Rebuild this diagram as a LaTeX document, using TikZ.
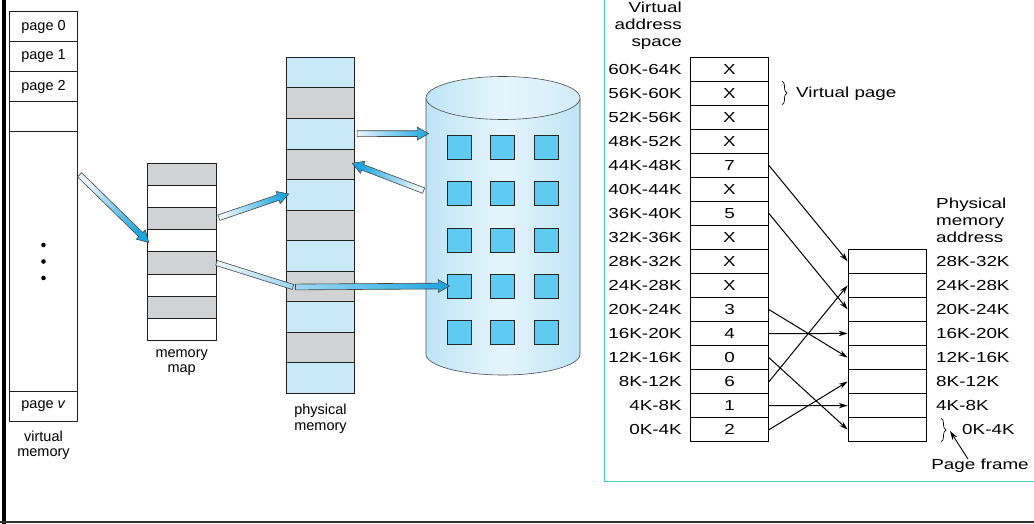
\documentclass[tikz,border=0pt]{standalone}
\usepackage{fontspec}
\setmainfont{Liberation Sans}
\newfontfamily\widefont[FakeStretch=1.3]{Liberation Sans}
\usetikzlibrary{shapes,arrows,positioning,calc,decorations.pathreplacing,arrows.meta}

\definecolor{memblue}{HTML}{C8E9F8}
\definecolor{memgrey}{HTML}{D1D2D4}
\definecolor{sqblue}{HTML}{5FCBF3}
\definecolor{diskedge}{HTML}{BEE4F6}
\definecolor{diskmid}{HTML}{E6F5FC}
\definecolor{arrowblue}{HTML}{1CA6E0}
\definecolor{shaftlight}{HTML}{E8F6FC}
\definecolor{shaftmid}{HTML}{9ED8F2}
\definecolor{framegreen}{HTML}{40D8B8}

\tikzset{
  fatarrow/.style={single arrow, draw=gray!55!black, line width=0.6pt, inner sep=0pt,
    text height=2.6pt, text depth=2.6pt, single arrow head extend=3.5pt, single arrow tip angle=60,
    single arrow head indent=0pt, left color=shaftlight, right color=arrowblue},
  fatshaft/.style={rectangle, draw=gray!55!black, line width=0.6pt, inner sep=0pt,
    minimum height=5.2pt, left color=shaftlight, right color=shaftmid}
}

% shaded block arrow between two named points
\newcommand{\bluearrow}[4][]{%
  \path let \p1=($(#4)-(#3)$), \n1={atan2(\y1,\x1)}, \n2={veclen(\x1,\y1)} in
    node[fatarrow, #1, shading angle=\n1+90, minimum height=\n2, rotate=\n1] (#2) at ($(#3)!0.5!(#4)$) {};}
\newcommand{\blueshaft}[4][]{%
  \path let \p1=($(#4)-(#3)$), \n1={atan2(\y1,\x1)}, \n2={veclen(\x1,\y1)} in
    node[fatshaft, #1, shading angle=\n1+90, minimum width=\n2, rotate=\n1] (#2) at ($(#3)!0.5!(#4)$) {};}

\begin{document}
\begin{tikzpicture}[x=1pt, y=-1pt, font=\fontsize{14.5}{15.5}\selectfont,
    >={Stealth[length=9pt,width=5.5pt]},
    cell/.style={rectangle, draw=gray!25!black, line width=0.7pt, inner sep=0pt},
    vmcell/.style={cell, minimum width=68.4pt, minimum height=30pt},
    caption/.style={align=center, inner sep=0pt},
    vcell/.style={rectangle, draw, line width=1.3pt, inner sep=0pt, minimum width=77.6pt,
      minimum height=24.03pt, font=\widefont\fontsize{14.5}{17}\selectfont},
    pcell/.style={vcell, minimum width=78.4pt},
    vlab/.style={inner sep=0pt, font=\widefont\fontsize{14.5}{17}\selectfont}]
  \useasboundingbox (0,0) rectangle (1034,524);

  % frame
  \draw[line width=4pt] (3.5,0) -- (3.5,524);
  \draw[line width=1.5pt, gray!40!black] (0,522) -- (1034,522);
  \draw[framegreen, line width=1pt] (604,0) -- (604,481) -- (1034,481);

  % virtual memory
  \node[vmcell] (page0) at (43.5,26.5) {page 0};
  \node[vmcell] (page1) at (43.5,56.5) {page 1};
  \node[vmcell] (page2) at (43.5,86.5) {page 2};
  \node[vmcell] (page3) at (43.5,116.5) {};
  \node[vmcell, minimum height=260pt] (pagemid) at (43.5,261.5) {};
  \node[vmcell] (pagev) at (43.5,406.5) {page \textit{v}};
  \node[caption] (vmcap) at (43.5,445) {virtual\\memory};
  \foreach \y in {245,261.5,278}
    \fill (43.5,\y) circle[radius=2.3pt];

  % memory map
  \foreach \c [count=\i] in {memgrey,white,memgrey,white,memgrey,white,memgrey,white}
    \node[cell, fill=\c, minimum width=68.7pt, minimum height=22.2pt] (mm\i) at (181.7,{163+22.2*(\i-0.5)}) {};
  \node[caption] (mmcap) at (181.7,362.5) {memory\\map};

  % physical memory
  \foreach \c [count=\i] in {memblue,memgrey,memblue,memgrey,memblue,memgrey,memblue,memgrey,memblue,memgrey,memblue}
    \node[cell, fill=\c, minimum width=67.6pt, minimum height=30.55pt] (pm\i) at (320.5,{57.3+30.55*(\i-0.5)}) {};
  \node[caption] (pmcap) at (320.5,418.5) {physical\\memory};

  % disk
  \shadedraw[left color=diskedge, right color=diskedge, middle color=diskmid, draw=gray!60!black, line width=0.6pt]
    (426,98) -- (426,354) arc[start angle=180, end angle=360, x radius=77pt, y radius=21pt] -- (580,98) -- cycle;
  \shadedraw[left color=diskedge, right color=diskedge!70, middle color=diskmid, draw=gray!60!black, line width=0.6pt]
    (503,98) ellipse[x radius=77pt, y radius=21.5pt];
  \foreach \x [count=\c] in {459.3,502.7,546}
    \foreach \y [count=\r] in {147.3,193.7,240.3,286,332.3}
      \node[rectangle, draw=gray!30!black, line width=0.8pt, fill=sqblue, minimum size=24pt, inner sep=0pt] (sq\r\c) at (\x,\y) {};

  % block arrows
  \coordinate (vmout) at (77.7,173);
  \coordinate (bend) at (293,287);
  \coordinate (diskin) at (426,133.6);
  \coordinate (diskout) at (426,191.5);
  \bluearrow{arrA}{vmout}{mm4.west}
  \bluearrow{arrB}{mm3.east}{pm5.west}
  \blueshaft{arrC}{mm5.east}{bend}
  \bluearrow[left color=shaftmid]{arrD}{bend}{sq41.west}
  \bluearrow{arrE}{pm3.east}{diskin}
  \bluearrow{arrF}{diskout}{pm4.east}

  % page table, virtual side
  \node[vlab, anchor=east, align=right] (vashead) at (682,26) {Virtual\\address\\space};
  \foreach \val/\lab [count=\i from 0] in {X/60K-64K, X/56K-60K, X/52K-56K, X/48K-52K, 7/44K-48K, X/40K-44K,
      5/36K-40K, X/32K-36K, X/28K-32K, X/24K-28K, 3/20K-24K, 4/16K-20K, 0/12K-16K, 6/8K-12K, 1/4K-8K, 2/0K-4K} {
    \pgfmathtruncatemacro\vp{15-\i}
    \node[vcell] (v\vp) at (729.5,{69.3+24.03*\i}) {\val};
    \node[vlab, anchor=east] (vl\vp) at (682,{69.3+24.03*\i}) {\lab};
  }
  \draw[line width=0.7pt, decorate, decoration={brace, amplitude=5pt}] (782,81) -- (782,105);
  \node[vlab, anchor=west] (vpage) at (796,93.3) {Virtual page};

  % page table, physical side
  \node[vlab, anchor=west, align=left] (pmhead) at (936,220) {Physical\\memory\\address};
  \foreach \i in {0,...,7} {
    \pgfmathtruncatemacro\pf{7-\i}
    \node[pcell] (p\pf) at (887.5,{261.3+24.05*\i}) {};
  }
  \foreach \lab [count=\i from 0] in {28K-32K, 24K-28K, 20K-24K, 16K-20K, 12K-16K, 8K-12K, 4K-8K} {
    \pgfmathtruncatemacro\pf{7-\i}
    \node[vlab, anchor=west] (pl\pf) at (936,{261.3+24.05*\i}) {\lab};
  }
  \draw[line width=0.7pt, decorate, decoration={brace, amplitude=5pt}] (941,418) -- (941,442);
  \node[vlab, anchor=west] (pl0) at (962,430) {0K-4K};
  \node[vlab] (pframe) at (980,466) {Page frame};
  \coordinate (pftip) at (950,431);
  \draw[->, line width=0.9pt] ([xshift=-12pt]pframe.north) -- (pftip);

  % mapping
  \foreach \a/\b in {11/7, 9/5, 5/3, 4/4, 3/0, 2/6, 1/1, 0/2}
    \draw[->, line width=1pt] (v\a.east) -- (p\b.west);
\end{tikzpicture}
\end{document}
